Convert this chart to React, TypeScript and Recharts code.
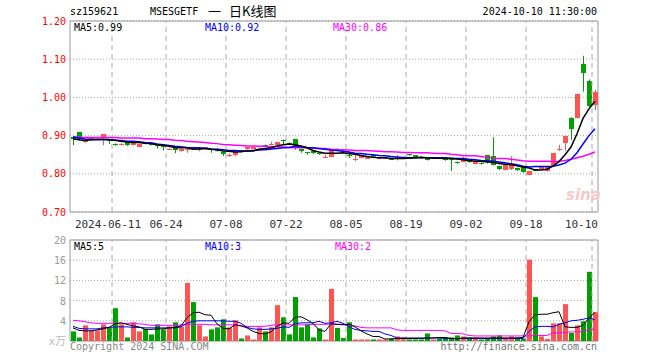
import React from 'react';
import {
  ComposedChart,
  Bar,
  Line,
  XAxis,
  YAxis,
  CartesianGrid,
  ReferenceLine,
  ReferenceArea,
} from 'recharts';

const dates = [
  '2024-05-30', '2024-05-31', '2024-06-03', '2024-06-04', '2024-06-05', '2024-06-06', '2024-06-07', '2024-06-11', '2024-06-12', '2024-06-13',
  '2024-06-14', '2024-06-17', '2024-06-18', '2024-06-19', '2024-06-20', '2024-06-21', '2024-06-24', '2024-06-25', '2024-06-26', '2024-06-27',
  '2024-06-28', '2024-07-01', '2024-07-02', '2024-07-03', '2024-07-04', '2024-07-05', '2024-07-08', '2024-07-09', '2024-07-10', '2024-07-11',
  '2024-07-12', '2024-07-15', '2024-07-16', '2024-07-17', '2024-07-18', '2024-07-19', '2024-07-22', '2024-07-23', '2024-07-24', '2024-07-25',
  '2024-07-26', '2024-07-29', '2024-07-30', '2024-07-31', '2024-08-01', '2024-08-02', '2024-08-05', '2024-08-06', '2024-08-07', '2024-08-08',
  '2024-08-09', '2024-08-12', '2024-08-13', '2024-08-14', '2024-08-15', '2024-08-16', '2024-08-19', '2024-08-20', '2024-08-21', '2024-08-22',
  '2024-08-23', '2024-08-26', '2024-08-27', '2024-08-28', '2024-08-29', '2024-08-30', '2024-09-02', '2024-09-03', '2024-09-04', '2024-09-05',
  '2024-09-06', '2024-09-09', '2024-09-10', '2024-09-11', '2024-09-12', '2024-09-13', '2024-09-18', '2024-09-19', '2024-09-20', '2024-09-23',
  '2024-09-24', '2024-09-25', '2024-09-26', '2024-09-27', '2024-09-30', '2024-10-08', '2024-10-09', '2024-10-10',
];

const opens = [
  0.897, 0.910, 0.883, 0.889, 0.889, 0.893, 0.890, 0.877, 0.877, 0.883,
  0.875, 0.871, 0.880, 0.878, 0.876, 0.873, 0.863, 0.868, 0.859, 0.861,
  0.867, 0.863, 0.867, 0.866, 0.866, 0.857, 0.849, 0.850, 0.861, 0.864,
  0.866, 0.865, 0.876, 0.878, 0.875, 0.889, 0.881, 0.890, 0.864, 0.856,
  0.859, 0.855, 0.844, 0.845, 0.866, 0.860, 0.848, 0.839, 0.842, 0.840,
  0.848, 0.841, 0.840, 0.839, 0.841, 0.841, 0.851, 0.848, 0.845, 0.842,
  0.840, 0.841, 0.840, 0.838, 0.830, 0.832, 0.834, 0.826, 0.829, 0.848,
  0.846, 0.820, 0.811, 0.812, 0.815, 0.817, 0.798, 0.812, 0.813, 0.807,
  0.820, 0.862, 0.880, 0.946, 0.947, 1.088, 1.044, 0.980,
];

const closes = [
  0.892, 0.892, 0.889, 0.893, 0.891, 0.903, 0.886, 0.876, 0.879, 0.875,
  0.881, 0.878, 0.879, 0.875, 0.872, 0.871, 0.866, 0.861, 0.866, 0.865,
  0.865, 0.868, 0.869, 0.863, 0.860, 0.853, 0.850, 0.857, 0.857, 0.869,
  0.870, 0.866, 0.875, 0.879, 0.883, 0.885, 0.880, 0.870, 0.859, 0.855,
  0.855, 0.853, 0.845, 0.863, 0.862, 0.859, 0.847, 0.840, 0.848, 0.844,
  0.842, 0.842, 0.842, 0.838, 0.842, 0.844, 0.850, 0.843, 0.844, 0.837,
  0.841, 0.840, 0.839, 0.836, 0.829, 0.836, 0.831, 0.831, 0.825, 0.831,
  0.824, 0.813, 0.824, 0.825, 0.809, 0.804, 0.807, 0.808, 0.817, 0.820,
  0.854, 0.864, 0.898, 0.917, 1.008, 1.064, 0.978, 1.015,
];

const highs = [
  0.898, 0.910, 0.890, 0.894, 0.892, 0.904, 0.891, 0.880, 0.880, 0.884,
  0.882, 0.879, 0.881, 0.879, 0.877, 0.874, 0.867, 0.869, 0.867, 0.866,
  0.868, 0.869, 0.870, 0.867, 0.867, 0.858, 0.853, 0.858, 0.862, 0.870,
  0.873, 0.868, 0.877, 0.884, 0.884, 0.890, 0.882, 0.891, 0.865, 0.857,
  0.860, 0.856, 0.849, 0.865, 0.867, 0.861, 0.853, 0.849, 0.849, 0.845,
  0.849, 0.844, 0.843, 0.840, 0.849, 0.845, 0.852, 0.849, 0.846, 0.843,
  0.842, 0.842, 0.841, 0.839, 0.832, 0.845, 0.835, 0.832, 0.830, 0.849,
  0.896, 0.821, 0.826, 0.846, 0.816, 0.818, 0.808, 0.813, 0.818, 0.821,
  0.855, 0.876, 0.900, 0.948, 1.010, 1.109, 1.047, 1.020,
];

const lows = [
  0.875, 0.887, 0.881, 0.887, 0.888, 0.875, 0.878, 0.873, 0.876, 0.873,
  0.874, 0.870, 0.877, 0.874, 0.866, 0.861, 0.862, 0.854, 0.858, 0.855,
  0.863, 0.859, 0.866, 0.855, 0.858, 0.846, 0.844, 0.846, 0.856, 0.863,
  0.865, 0.864, 0.870, 0.874, 0.874, 0.877, 0.878, 0.863, 0.855, 0.850,
  0.852, 0.850, 0.843, 0.843, 0.861, 0.857, 0.841, 0.833, 0.841, 0.839,
  0.841, 0.841, 0.839, 0.837, 0.835, 0.840, 0.847, 0.842, 0.843, 0.835,
  0.839, 0.839, 0.834, 0.808, 0.826, 0.830, 0.829, 0.825, 0.824, 0.827,
  0.822, 0.810, 0.809, 0.810, 0.807, 0.803, 0.796, 0.807, 0.812, 0.806,
  0.819, 0.860, 0.860, 0.889, 0.945, 1.015, 0.975, 0.967,
];

// 成交量 (万)
const volumes = [
  1.9, 0.7, 3.1, 2.1, 2.1, 3.3, 2.7, 6.5, 3.3, 0.7,
  3.7, 1.9, 2.4, 1.3, 3.3, 2.3, 2.9, 3.7, 2.8, 11.5,
  7.7, 3.1, 0.9, 2.3, 2.7, 4.3, 2.7, 4.1, 0.5, 1.1,
  0.3, 2.7, 1.9, 2.7, 7.1, 4.7, 1.3, 8.7, 2.7, 3.3,
  0.7, 2.5, 0.3, 10.3, 2.6, 0.6, 3.7, 0.3, 0.3, 0.3,
  0.3, 0.3, 0.3, 0.5, 0.9, 0.7, 0.3, 0.3, 0.3, 1.5,
  0.3, 0.5, 0.7, 0.7, 1.1, 0.9, 0.7, 0.7, 0.3, 0.5,
  0.9, 1.1, 0.5, 0.9, 0.7, 0.5, 16.1, 8.7, 0.9, 0.4,
  3.5, 3.5, 7.3, 1.6, 3.1, 3.9, 13.7, 5.7,
];

const ma5 = [
  0.892, 0.889, 0.887, 0.889, 0.890, 0.890, 0.890, 0.888, 0.885, 0.883,
  0.882, 0.882, 0.880, 0.879, 0.876, 0.875, 0.872, 0.869, 0.868, 0.868,
  0.864, 0.865, 0.866, 0.864, 0.863, 0.860, 0.859, 0.857, 0.858, 0.860,
  0.860, 0.864, 0.866, 0.868, 0.873, 0.876, 0.878, 0.876, 0.873, 0.868,
  0.861, 0.857, 0.854, 0.854, 0.854, 0.855, 0.853, 0.851, 0.848, 0.845,
  0.843, 0.842, 0.842, 0.840, 0.840, 0.840, 0.841, 0.842, 0.843, 0.842,
  0.841, 0.841, 0.840, 0.840, 0.839, 0.837, 0.835, 0.833, 0.833, 0.831,
  0.830, 0.827, 0.825, 0.824, 0.821, 0.818, 0.815, 0.810, 0.810, 0.812,
  0.820, 0.832, 0.850, 0.870, 0.905, 0.945, 0.970, 0.990,
];

const ma10 = [
  0.897, 0.894, 0.891, 0.890, 0.890, 0.890, 0.889, 0.888, 0.887, 0.885,
  0.885, 0.884, 0.882, 0.881, 0.878, 0.876, 0.874, 0.872, 0.871, 0.869,
  0.868, 0.868, 0.867, 0.865, 0.864, 0.863, 0.861, 0.861, 0.860, 0.860,
  0.861, 0.862, 0.863, 0.865, 0.866, 0.868, 0.869, 0.872, 0.871, 0.869,
  0.868, 0.866, 0.864, 0.862, 0.861, 0.859, 0.857, 0.854, 0.853, 0.851,
  0.850, 0.848, 0.847, 0.845, 0.844, 0.843, 0.842, 0.842, 0.842, 0.842,
  0.842, 0.842, 0.842, 0.841, 0.840, 0.840, 0.838, 0.837, 0.835, 0.834,
  0.833, 0.831, 0.829, 0.826, 0.824, 0.820, 0.818, 0.819, 0.819, 0.819,
  0.820, 0.823, 0.828, 0.838, 0.855, 0.878, 0.900, 0.918,
];

const ma30 = [
  0.896, 0.896, 0.895, 0.895, 0.895, 0.895, 0.895, 0.895, 0.894, 0.894,
  0.894, 0.894, 0.892, 0.892, 0.891, 0.890, 0.890, 0.888, 0.887, 0.885,
  0.884, 0.883, 0.882, 0.880, 0.879, 0.877, 0.876, 0.875, 0.874, 0.873,
  0.873, 0.872, 0.872, 0.871, 0.871, 0.870, 0.869, 0.868, 0.868, 0.868,
  0.867, 0.866, 0.866, 0.864, 0.863, 0.863, 0.862, 0.861, 0.861, 0.861,
  0.860, 0.859, 0.858, 0.858, 0.857, 0.856, 0.856, 0.855, 0.855, 0.855,
  0.854, 0.853, 0.853, 0.851, 0.850, 0.848, 0.847, 0.847, 0.845, 0.843,
  0.841, 0.840, 0.840, 0.838, 0.836, 0.834, 0.833, 0.833, 0.833, 0.833,
  0.832, 0.833, 0.835, 0.838, 0.842, 0.846, 0.851, 0.857,
];

const volMa5 = [
  2.6, 2.1, 2.0, 2.0, 2.2, 2.4, 2.7, 3.4, 3.6, 3.3,
  3.0, 2.8, 2.3, 2.3, 2.4, 2.4, 2.6, 2.7, 3.0, 4.6,
  5.6, 5.7, 5.2, 5.1, 3.4, 2.5, 2.4, 3.2, 3.0, 2.6,
  1.9, 1.5, 1.4, 1.8, 2.9, 3.6, 3.5, 4.7, 4.8, 4.2,
  3.5, 2.2, 1.9, 3.4, 3.3, 3.3, 3.3, 2.8, 2.0, 1.4,
  0.9, 0.9, 0.4, 0.4, 0.5, 0.5, 0.5, 0.5, 0.5, 0.6,
  0.6, 0.7, 0.7, 0.5, 0.4, 0.6, 0.6, 0.6, 0.6, 0.6,
  0.6, 0.6, 0.6, 0.6, 0.6, 0.7, 3.8, 5.2, 5.3, 5.3,
  5.6, 5.8, 2.8, 2.7, 2.7, 3.1, 4.5, 5.7,
];

const volMa10 = [
  2.9, 2.5, 2.4, 2.4, 2.4, 2.6, 2.7, 2.8, 2.8, 2.8,
  2.7, 2.7, 2.6, 2.6, 2.6, 2.6, 2.6, 2.6, 2.8, 3.5,
  3.9, 4.0, 4.0, 4.0, 4.0, 4.0, 3.9, 3.9, 3.5, 2.7,
  2.4, 2.3, 2.3, 2.4, 2.5, 2.8, 2.7, 3.4, 3.6, 3.6,
  3.6, 3.9, 3.5, 3.6, 3.9, 3.5, 2.8, 2.3, 2.1, 2.0,
  1.9, 1.9, 1.4, 1.1, 0.6, 0.6, 0.6, 0.6, 0.6, 0.6,
  0.6, 0.6, 0.5, 0.5, 0.5, 0.5, 0.5, 0.5, 0.5, 0.5,
  0.5, 0.5, 0.5, 0.5, 0.5, 0.5, 1.9, 2.8, 2.9, 2.9,
  2.8, 3.3, 3.6, 4.0, 4.1, 4.3, 4.6, 4.2,
];

const volMa30 = [
  4.1, 4.0, 3.8, 3.6, 3.5, 3.5, 3.5, 3.5, 3.5, 3.5,
  3.5, 3.4, 3.3, 3.1, 3.1, 3.1, 3.1, 3.1, 3.2, 3.3,
  3.3, 3.3, 3.3, 3.2, 3.2, 3.2, 3.2, 3.2, 3.0, 2.9,
  2.9, 2.9, 2.9, 3.1, 3.2, 3.2, 3.2, 3.2, 3.2, 3.2,
  3.3, 3.3, 3.3, 3.4, 3.3, 3.2, 3.1, 3.0, 2.7, 2.6,
  2.6, 2.6, 2.6, 2.6, 2.2, 2.1, 2.1, 2.1, 2.1, 2.1,
  2.1, 2.1, 2.0, 1.5, 1.5, 1.4, 1.1, 1.0, 1.0, 1.0,
  1.0, 1.0, 1.0, 1.0, 1.0, 1.0, 1.0, 1.1, 1.1, 1.1,
  1.6, 1.6, 1.7, 1.8, 1.8, 1.9, 2.2, 2.4,
];

const tickDates = [
  '2024-06-11', '2024-06-24', '2024-07-08', '2024-07-22', '2024-08-05',
  '2024-08-19', '2024-09-02', '2024-09-18', '2024-10-10',
];
const priceTicks = [0.7, 0.8, 0.9, 1.0, 1.1, 1.2];
const volTicks = [0, 4, 8, 12, 16, 20];

const RED = '#ff5454';
const GREEN = '#00a000';
const FONT = '"DejaVu Sans Mono", "Noto Sans CJK SC", monospace';
const CJK = '"Noto Sans CJK SC", sans-serif';

const data = dates.map((date, i) => ({
  date,
  open: opens[i],
  close: closes[i],
  high: highs[i],
  low: lows[i],
  vol: volumes[i],
  ma5: ma5[i],
  ma10: ma10[i],
  ma30: ma30[i],
  vma5: volMa5[i],
  vma10: volMa10[i],
  vma30: volMa30[i],
}));

function Candle(props: any) {
  const { x, y, width, height, payload } = props;
  if (x == null || !payload) return null;
  let top = y;
  let h = height;
  if (h < 0) {
    top = y + h;
    h = -h;
  }
  const { open, close, high, low } = payload;
  const color = close >= open ? RED : GREEN;
  const k = high > low ? h / (high - low) : 0;
  const py = (v: number) => top + (high - v) * k;
  const bx = Math.floor(x);
  const bw = Math.round(width);
  const cx = bx + Math.floor(bw / 2) + 0.5;
  const bTop = Math.round(py(Math.max(open, close)));
  const bBot = Math.round(py(Math.min(open, close)));
  return (
    <g>
      <line x1={cx} x2={cx} y1={top} y2={top + h} stroke={color} strokeWidth={1} />
      <rect x={bx} y={bTop} width={bw} height={Math.max(bBot - bTop, 1)} fill={color} />
    </g>
  );
}

function VolBar(props: any) {
  const { x, y, width, height, payload } = props;
  if (x == null || !payload) return null;
  const color = payload.close >= payload.open ? RED : GREEN;
  return <rect x={Math.floor(x)} y={y} width={Math.round(width)} height={height} fill={color} />;
}

function DateTick({ x, y, payload }: any) {
  const v: string = payload.value;
  const first = v === tickDates[0];
  const last = v === tickDates[tickDates.length - 1];
  const label = first ? v : v.slice(5);
  return (
    <text
      x={last ? x + 3 : first ? x - 7 : x - 3}
      y={y + 14}
      textAnchor={last ? 'end' : 'middle'}
      fontSize={11}
      fontFamily={FONT}
      fill="#333"
    >
      {label}
    </text>
  );
}

function VolTick({ x, y, payload }: any) {
  const zero = payload.value === 0;
  return (
    <text
      x={x}
      y={y + 4}
      textAnchor="end"
      fontSize={zero ? 11 : 10}
      fontFamily={FONT}
      fill={zero ? '#bbb' : '#999'}
    >
      {zero ? 'x万' : payload.value}
    </text>
  );
}

const label = (left: number, top: number, color: string, text: string, size = 10, family = FONT) => (
  <div
    style={{
      position: 'absolute',
      left,
      top,
      color,
      fontSize: size,
      fontFamily: family,
      lineHeight: '12px',
      whiteSpace: 'nowrap',
    }}
  >
    {text}
  </div>
);

export default function App() {
  return (
    <div
      style={{
        position: 'absolute',
        left: 0,
        top: 0,
        width: 660,
        height: 360,
        background: '#fff',
        fontFamily: FONT,
      }}
    >
      {label(70, 6, '#000', 'sz159621')}
      {label(150, 6, '#000', 'MSESGETF')}
      {label(208, 5, '#000', '一', 13, CJK)}
      {label(229, 5, '#000', '日K线图', 13, CJK)}
      <div
        style={{
          position: 'absolute',
          right: 63,
          top: 6,
          fontSize: 10,
          lineHeight: '12px',
          whiteSpace: 'nowrap',
        }}
      >
        2024-10-10 11:30:00
      </div>

      <div style={{ position: 'absolute', left: 0, top: 0 }}>
        <ComposedChart
          width={660}
          height={232}
          data={data}
          margin={{ top: 21, right: 62, bottom: 0, left: 0 }}
        >
          <CartesianGrid vertical={false} stroke="#aaa" strokeDasharray="1 2" />
          <XAxis
            dataKey="date"
            ticks={tickDates}
            interval={0}
            tick={<DateTick />}
            tickLine={false}
            axisLine={false}
            tickSize={0}
            height={20}
          />
          <YAxis
            domain={[0.7, 1.2]}
            ticks={priceTicks}
            interval={0}
            allowDataOverflow
            width={70}
            tickLine={false}
            axisLine={false}
            tickSize={0}
            tickMargin={4}
            tickFormatter={(v: number) => v.toFixed(2)}
            tick={{ fill: '#ff0000', fontSize: 10, fontFamily: FONT }}
          />
          {tickDates.map((d) => (
            <ReferenceLine key={d} x={d} position="start" stroke="#aaa" strokeDasharray="5 4" />
          ))}
          <ReferenceArea y1={0.7} y2={1.2} fill="none" stroke="#999" strokeWidth={1} />
          <Bar
            dataKey={(d: any) => [d.low, d.high]}
            barSize={5}
            shape={<Candle />}
            isAnimationActive={false}
          />
          <Line dataKey="ma30" stroke="#ff00ff" strokeWidth={1.5} dot={false} isAnimationActive={false} />
          <Line dataKey="ma10" stroke="#0000ff" strokeWidth={1.5} dot={false} isAnimationActive={false} />
          <Line dataKey="ma5" stroke="#000" strokeWidth={1.5} dot={false} isAnimationActive={false} />
        </ComposedChart>
      </div>

      <div style={{ position: 'absolute', left: 0, top: 232 }}>
        <ComposedChart
          width={660}
          height={122}
          data={data}
          margin={{ top: 8, right: 62, bottom: 13, left: 0 }}
        >
          <CartesianGrid vertical={false} stroke="#aaa" strokeDasharray="1 2" />
          <XAxis dataKey="date" hide height={0} />
          <YAxis
            domain={[0, 20]}
            ticks={volTicks}
            interval={0}
            allowDataOverflow
            width={70}
            tickLine={false}
            axisLine={false}
            tickSize={0}
            tickMargin={4}
            tick={<VolTick />}
          />
          {tickDates.map((d) => (
            <ReferenceLine key={d} x={d} position="start" stroke="#aaa" strokeDasharray="5 4" />
          ))}
          <ReferenceArea y1={0} y2={20} fill="none" stroke="#999" strokeWidth={1} />
          <Bar dataKey="vol" barSize={5} shape={<VolBar />} isAnimationActive={false} />
          <Line dataKey="vma30" stroke="#ff00ff" strokeWidth={1} dot={false} isAnimationActive={false} />
          <Line dataKey="vma10" stroke="#0000ff" strokeWidth={1} dot={false} isAnimationActive={false} />
          <Line dataKey="vma5" stroke="#000" strokeWidth={1} dot={false} isAnimationActive={false} />
        </ComposedChart>
      </div>

      {label(74, 22, '#000', 'MA5:0.99')}
      {label(205, 22, '#0000ff', 'MA10:0.92')}
      {label(333, 22, '#ff00ff', 'MA30:0.86')}
      {label(74, 241, '#000', 'MA5:5')}
      {label(205, 241, '#0000ff', 'MA10:3')}
      {label(335, 241, '#ff00ff', 'MA30:2')}

      <div
        style={{
          position: 'absolute',
          left: 566,
          top: 186,
          color: '#f6c8c8',
          fontSize: 15,
          fontWeight: 'bold',
          fontStyle: 'italic',
          fontFamily: '"DejaVu Sans", sans-serif',
        }}
      >
        sina
      </div>

      {label(70, 341, '#888', 'Copyright 2024 SINA.COM')}
      <div
        style={{
          position: 'absolute',
          right: 63,
          top: 341,
          color: '#777',
          fontSize: 10,
          lineHeight: '12px',
          whiteSpace: 'nowrap',
        }}
      >
        http://finance.sina.com.cn
      </div>
    </div>
  );
}
